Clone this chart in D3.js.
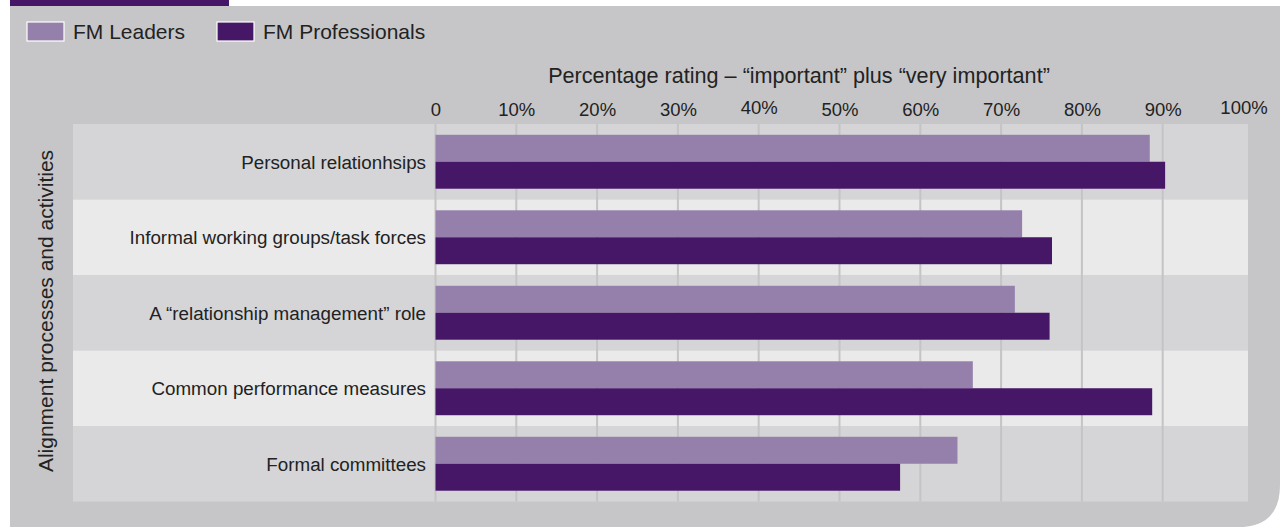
<!DOCTYPE html>
<html>
<head>
<meta charset="utf-8">
<script src="https://cdn.jsdelivr.net/npm/d3@7/dist/d3.min.js"></script>
<style>
  html, body { margin: 0; padding: 0; background: #ffffff; }
  svg { display: block; }
  text { font-family: "Liberation Sans", Arial, Helvetica, sans-serif; fill: #222222; }
</style>
</head>
<body>
<svg id="chart" width="1285" height="528"></svg>
<script>
// Alignment processes and activities, share rating "important" or "very important"
const categories = [
  "Personal relationhsips",
  "Informal working groups/task forces",
  "A \u201crelationship management\u201d role",
  "Common performance measures",
  "Formal committees"
];
const seriesNames = ["FM Leaders", "FM Professionals"];
const leaders       = [88.4, 72.6, 71.7, 66.5, 64.6];
const professionals = [90.3, 76.3, 76.0, 88.7, 57.5];
const tickValues = [0, 10, 20, 30, 40, 50, 60, 70, 80, 90, 100];
const tickLabels = ["0", "10%", "20%", "30%", "40%", "50%", "60%", "70%", "80%", "90%", "100%"];
const gridValues = [0, 10, 20, 30, 40, 50, 60, 70, 80, 90];

const colors = { "FM Leaders": "#9480ab", "FM Professionals": "#461667" };
const seriesValues = { "FM Leaders": leaders, "FM Professionals": professionals };

const svg = d3.select("#chart");

// Panel background with a rounded bottom-right corner
const px0 = 10, py0 = 6, px1 = 1280, py1 = 527, r = 42;
svg.append("path")
  .attr("d", `M${px0},${py0} H${px1} V${py1 - r} Q${px1},${py1} ${px1 - r},${py1} H${px0} Z`)
  .attr("fill", "#c6c6c8");
// Header tab
svg.append("rect").attr("x", 10).attr("y", 0).attr("width", 219).attr("height", 6).attr("fill", "#461667");

// Scales
const plotLeft = 73, plotRight = 1248, plotTop = 124, plotBottom = 501.5;
const x = d3.scaleLinear().domain([0, 100]).range([435.5, 1243.5]);
const y = d3.scaleBand().domain(categories).range([plotTop, plotBottom]).padding(0);
const ySub = d3.scaleBand().domain(seriesNames).range([0, y.bandwidth()]).paddingInner(0).paddingOuter(0.4);

// Alternating row bands
svg.append("g").selectAll("rect").data(categories).join("rect")
  .attr("x", plotLeft)
  .attr("y", d => y(d))
  .attr("width", plotRight - plotLeft)
  .attr("height", y.bandwidth())
  .attr("fill", (d, i) => i % 2 === 0 ? "#d5d5d7" : "#eaeaea");

// Vertical gridlines
svg.append("g").selectAll("line").data(gridValues).join("line")
  .attr("x1", d => x(d)).attr("x2", d => x(d))
  .attr("y1", plotTop).attr("y2", plotBottom)
  .attr("stroke", "#c4c4c6").attr("stroke-width", 2);

// Bars
const rows = svg.append("g").selectAll("g").data(categories).join("g")
  .attr("transform", d => `translate(0,${y(d)})`);
rows.selectAll("rect")
  .data((d, i) => seriesNames.map(s => ({ s, v: seriesValues[s][i] })))
  .join("rect")
  .attr("x", x(0))
  .attr("y", d => ySub(d.s))
  .attr("width", d => x(d.v) - x(0))
  .attr("height", ySub.bandwidth())
  .attr("fill", d => colors[d.s]);

// Category labels
svg.append("g").selectAll("text").data(categories).join("text")
  .attr("x", 426)
  .attr("y", d => y(d) + y.bandwidth() / 2)
  .attr("dy", "0.36em")
  .attr("text-anchor", "end")
  .attr("font-size", 18.8)
  .attr("fill", "#2a2a2a")
  .text(d => d);

// Top axis tick labels
const axis = d3.axisTop(x).tickValues(tickValues).tickSize(0).tickPadding(0)
  .tickFormat((d, i) => tickLabels[i]);
const axisG = svg.append("g").attr("transform", "translate(0,116)").call(axis);
axisG.select(".domain").remove();
axisG.selectAll("text")
  .attr("font-size", 18.5)
  .attr("font-family", "'Liberation Sans', Arial, sans-serif")
  .attr("fill", "#2a2a2a")
  .attr("dy", d => (d === 40 || d === 100) ? "-2px" : "0");

// Axis title
svg.append("text")
  .attr("x", 799).attr("y", 83)
  .attr("text-anchor", "middle")
  .attr("font-size", 21.6)
  .attr("fill", "#2a2a2a")
  .text("Percentage rating \u2013 \u201cimportant\u201d plus \u201cvery important\u201d");

// Vertical category title
svg.append("text")
  .attr("transform", "translate(53,311) rotate(-90)")
  .attr("text-anchor", "middle")
  .attr("font-size", 21)
  .attr("fill", "#2a2a2a")
  .text("Alignment processes and activities");

// Legend
const legendX = [27, 217];
const legend = svg.append("g").selectAll("g").data(seriesNames).join("g")
  .attr("transform", (d, i) => `translate(${legendX[i]},22)`);
legend.append("rect")
  .attr("width", 37).attr("height", 19)
  .attr("fill", d => colors[d])
  .attr("stroke", "#ffffff").attr("stroke-width", 1.2);
legend.append("text")
  .attr("x", 46).attr("y", 17)
  .attr("font-size", 21)
  .attr("fill", "#2a2a2a")
  .text(d => d);
</script>
</body>
</html>
